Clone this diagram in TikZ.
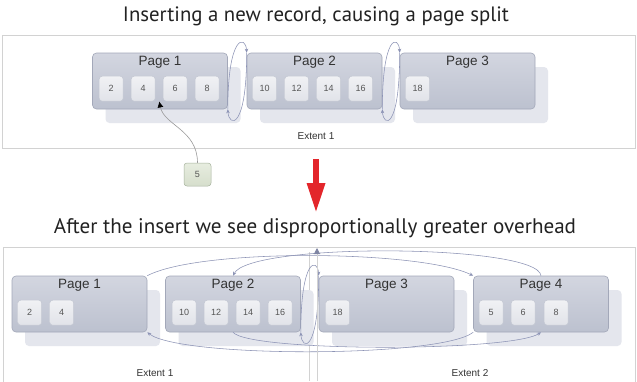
\documentclass[tikz,border=0pt]{standalone}
\usepackage{fontspec}
\setmainfont{Liberation Sans}
\newfontfamily\titlefont{PT Sans}
\usetikzlibrary{arrows.meta,calc,shadows}
\definecolor{framec}{HTML}{D2D2D2}
\definecolor{pagetop}{HTML}{D3D6E0}
\definecolor{pagebot}{HTML}{BCC1CF}
\definecolor{pagedraw}{HTML}{A3A8B9}
\definecolor{shadowc}{HTML}{E4E6ED}
\definecolor{rectop}{HTML}{F0F1F4}
\definecolor{recbot}{HTML}{E1E3E9}
\definecolor{recdraw}{HTML}{C3C7D2}
\definecolor{numc}{HTML}{555555}
\definecolor{labc}{HTML}{333333}
\definecolor{linkc}{HTML}{8C93B5}
\definecolor{greentop}{HTML}{E7EDE0}
\definecolor{greenbot}{HTML}{D6DECC}
\definecolor{greendraw}{HTML}{A7B39E}
\definecolor{redc}{HTML}{E3262B}
\definecolor{titlec}{HTML}{222222}
\begin{document}
\begin{tikzpicture}[x=1pt,y=-1pt,
  pagebox/.style={draw=pagedraw, line width=0.6pt, rounded corners=4pt,
    top color=pagetop, bottom color=pagebot,
    minimum width=135pt, minimum height=56pt, inner sep=0pt,
    drop shadow={shadow xshift=13pt, shadow yshift=-14pt, fill=shadowc, opacity=1}},
  pagelabel/.style={font=\fontsize{13.5}{15}\selectfont, text=labc, inner sep=0pt},
  rec/.style={draw=recdraw, line width=0.5pt, rounded corners=3pt, top color=rectop, bottom color=recbot,
    minimum width=24pt, minimum height=25pt, inner sep=0pt,
    font=\fontsize{9}{10}\selectfont, text=numc},
  newrec/.style={rec, draw=greendraw, top color=greentop, bottom color=greenbot, minimum width=27pt, minimum height=23pt},
  extlabel/.style={font=\fontsize{10}{11}\selectfont, text=labc, inner sep=0pt},
  link/.style={draw=linkc, line width=0.55pt, -{Stealth[length=4pt,width=3.5pt]}},
  frame/.style={draw=framec, line width=0.8pt},
  ]
\useasboundingbox (0,0) rectangle (637,381);
\clip (0,0) rectangle (637,381);
\fill[white] (0,0) rectangle (637,381);

% titles
\node[anchor=base, text=titlec, inner sep=0pt] (t1) at (316,21)
  {\resizebox{386pt}{!}{\titlefont Inserting a new record, causing a page split}};
\node[anchor=base, text=titlec, inner sep=0pt] (t2) at (315,233)
  {\resizebox{522pt}{!}{\titlefont After the insert we see disproportionally greater overhead}};

% frames
\draw[frame] (2,35) rectangle (635.5,148);
\draw[frame] (3,247) rectangle (635.5,395);
\coordinate (vl1) at (309,252);
\coordinate (vl2) at (309,381);
\draw[frame] (vl1) -- (vl2);

% ---------- top section ----------
\node[pagebox] (p1) at (160,81) {};
\node[pagebox] (p2) at (314.5,81) {};
\node[pagebox] (p3) at (467.5,81) {};
\node[pagelabel] (p1l) at ($(p1.north)+(0,9.5)$) {Page 1};
\node[pagelabel] (p2l) at ($(p2.north)+(0,9.5)$) {Page 2};
\node[pagelabel] (p3l) at ($(p3.north)+(0,9.5)$) {Page 3};

\node[rec] (a2) at ($(p1.north west)+(19,36)$) {2};
\node[rec] (a4) at ($(p1.north west)+(51,36)$) {4};
\node[rec] (a6) at ($(p1.north west)+(83,36)$) {6};
\node[rec] (a8) at ($(p1.north west)+(115,36)$) {8};
\node[rec] (a10) at ($(p2.north west)+(18,36)$) {10};
\node[rec] (a12) at ($(p2.north west)+(50,36)$) {12};
\node[rec] (a14) at ($(p2.north west)+(82,36)$) {14};
\node[rec] (a16) at ($(p2.north west)+(114,36)$) {16};
\node[rec] (a18) at ($(p3.north west)+(18,36)$) {18};

\draw[link] (p1.south east) .. controls +(0,-75) and +(-1,-18) .. (p2.north west);
\draw[link] (p2.north west) .. controls +(0,78) and +(1,18) .. (p1.south east);
\draw[link] (p2.south east) .. controls +(0,-75) and +(-1,-18) .. (p3.north west);
\draw[link] (p3.north west) .. controls +(0,78) and +(1,18) .. (p2.south east);

\node[extlabel] (e0) at (316,136) {Extent 1};

% new record
\node[newrec] (n5) at (197.5,174.5) {5};
\coordinate (ins) at ($(a4.south east)!0.5!(a6.south west)$);
\draw[draw=gray!80, line width=0.6pt, -{Latex[length=6pt,width=6pt,color=black]}]
  (n5.north) .. controls +(0,-33) and +(5,24) .. (ins);

% red arrow
\coordinate (ra1) at (316,159);
\coordinate (ra2) at (316,213);
\draw[redc, line width=6pt, -{Triangle[width=17pt,length=30pt]}] (ra1) -- (ra2);

% ---------- bottom section ----------
\node[pagebox] (q1) at (79.5,304) {};
\node[pagebox] (q2) at (233,304) {};
\node[pagebox] (q3) at (386.5,304) {};
\node[pagebox] (q4) at (541,304) {};
\node[pagelabel] (q1l) at ($(q1.north)+(0,9.5)$) {Page 1};
\node[pagelabel] (q2l) at ($(q2.north)+(0,9.5)$) {Page 2};
\node[pagelabel] (q3l) at ($(q3.north)+(0,9.5)$) {Page 3};
\node[pagelabel] (q4l) at ($(q4.north)+(0,9.5)$) {Page 4};

\node[rec] (b2) at ($(q1.north west)+(18,37)$) {2};
\node[rec] (b4) at ($(q1.north west)+(50,37)$) {4};
\node[rec] (b10) at ($(q2.north west)+(19,37)$) {10};
\node[rec] (b12) at ($(q2.north west)+(51,37)$) {12};
\node[rec] (b14) at ($(q2.north west)+(83,37)$) {14};
\node[rec] (b16) at ($(q2.north west)+(115,37)$) {16};
\node[rec] (b18) at ($(q3.north west)+(19,37)$) {18};
\node[rec] (b5) at ($(q4.north west)+(18,37)$) {5};
\node[rec] (b6) at ($(q4.north west)+(50,37)$) {6};
\node[rec] (b8) at ($(q4.north west)+(83,37)$) {8};

% loop between page 2 and page 3
\draw[link] (q2.south east) .. controls +(0,-75) and +(-1,-18) .. (q3.north west);
\draw[link] (q3.north west) .. controls +(0,78) and +(1,18) .. (q2.south east);

% long links
\draw[link] (q1.north east) .. controls (200,248) and (420,250) .. (q4.north west);
\draw[link] (q4.north) .. controls (538,244) and (250,242) .. (q2.north);
\draw[link] (q4.south west) .. controls (440,358) and (180,358) .. (q1.south east);
\draw[link] (q2.south) .. controls (250,352) and (510,352) .. (q4.south);

% vertical marker line
\coordinate (vb) at (317,381);
\coordinate (vt) at (317,248);
\draw[framec, line width=0.8pt, -{Triangle[width=6pt,length=6pt,color=linkc!90!black]}] (vb) -- (vt);

\node[extlabel] (e1) at (155,373) {Extent 1};
\node[extlabel] (e2) at (470,373) {Extent 2};
\end{tikzpicture}
\end{document}
